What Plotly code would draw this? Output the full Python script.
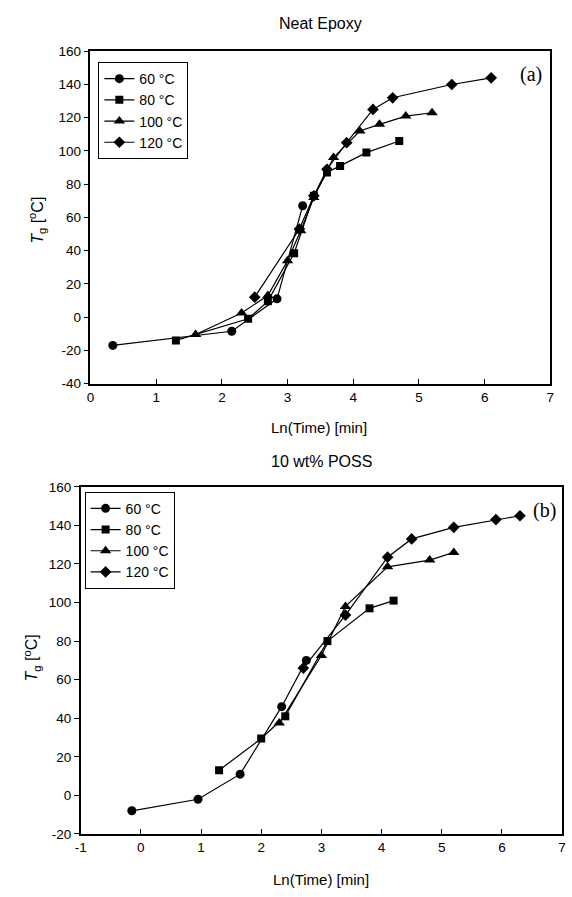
import plotly.graph_objects as go

# ---- Neat epoxy: Tg vs ln(time) at four cure temperatures ----
a_60_x = [0.34, 2.15, 2.84, 3.23]
a_60_y = [-17, -8.5, 11, 67]
a_80_x = [1.30, 2.40, 2.70, 3.10, 3.40, 3.60, 3.80, 4.20, 4.70]
a_80_y = [-14, -1, 9.5, 38.5, 73, 87, 91, 99, 106]
a_100_x = [1.60, 2.30, 2.70, 3.00, 3.20, 3.40, 3.70, 4.10, 4.40, 4.80, 5.20]
a_100_y = [-10.5, 2.5, 13, 34, 52, 72, 96, 112, 116, 121, 123]
a_120_x = [2.50, 3.18, 3.40, 3.60, 3.90, 4.30, 4.60, 5.50, 6.10]
a_120_y = [12, 53, 73, 89, 105, 125, 132, 140, 144]

# ---- 10 wt% POSS ----
b_60_x = [-0.15, 0.95, 1.65, 2.34, 2.75]
b_60_y = [-8, -2, 11, 46, 70]
b_80_x = [1.30, 2.00, 2.40, 3.10, 3.80, 4.20]
b_80_y = [13, 29.5, 41, 80, 97, 101]
b_100_x = [2.30, 3.00, 3.40, 4.10, 4.80, 5.20]
b_100_y = [37.5, 72.5, 98, 118.5, 122, 126]
b_120_x = [2.70, 3.40, 4.10, 4.50, 5.20, 5.90, 6.30]
b_120_y = [66, 93.5, 123.5, 133, 139, 143, 145]

series_names = ["60 °C", "80 °C", "100 °C", "120 °C"]
symbols = ["circle", "square", "triangle-up", "diamond"]
sizes = [9, 8, 10, 9]

a_xticks = [0, 1, 2, 3, 4, 5, 6, 7]
a_yticks = [-40, -20, 0, 20, 40, 60, 80, 100, 120, 140, 160]
b_xticks = [-1, 0, 1, 2, 3, 4, 5, 6, 7]
b_yticks = [-20, 0, 20, 40, 60, 80, 100, 120, 140, 160]

W, H = 572, 897
FONT = "Liberation Sans, Arial, sans-serif"
SERIF = "Liberation Serif, Times New Roman, serif"

fig = go.Figure()

panel_a = [(a_60_x, a_60_y), (a_80_x, a_80_y), (a_100_x, a_100_y), (a_120_x, a_120_y)]
panel_b = [(b_60_x, b_60_y), (b_80_x, b_80_y), (b_100_x, b_100_y), (b_120_x, b_120_y)]

for i, (xs, ys) in enumerate(panel_a):
    fig.add_trace(go.Scatter(
        x=xs, y=ys, mode="lines+markers", name=series_names[i],
        line=dict(color="black", width=1.2),
        marker=dict(symbol=symbols[i], size=sizes[i], color="black"),
        xaxis="x", yaxis="y", legend="legend"))

for i, (xs, ys) in enumerate(panel_b):
    fig.add_trace(go.Scatter(
        x=xs, y=ys, mode="lines+markers", name=series_names[i],
        line=dict(color="black", width=1.2),
        marker=dict(symbol=symbols[i], size=sizes[i], color="black"),
        xaxis="x2", yaxis="y2", legend="legend2"))


def fmt(v):
    # plain hyphen for negative labels
    return str(v).replace("\u2212", "-")


axis_common = dict(
    showline=True, linecolor="black", linewidth=1.5, mirror=True,
    showgrid=False, zeroline=False, ticklen=5, tickwidth=1.2,
    tickcolor="black", tickfont=dict(family=FONT, size=13.5, color="black"),
)


def xdom(l, r):
    return [l / W, r / W]


def ydom(top, bottom):
    return [(H - bottom) / H, (H - top) / H]


legend_common = dict(
    bgcolor="white", bordercolor="black", borderwidth=1,
    font=dict(family=FONT, size=14, color="black"),
    xanchor="left", yanchor="top", tracegroupgap=0, itemwidth=30,
)

fig.update_layout(
    width=W, height=H, margin=dict(l=0, r=0, t=0, b=0),
    paper_bgcolor="white", plot_bgcolor="white",
    font=dict(family=FONT, color="black"),
    xaxis=dict(domain=xdom(86, 554), anchor="y", range=[0, 7],
               tickvals=a_xticks, ticktext=[fmt(v) for v in a_xticks],
               ticks="inside", **axis_common),
    yaxis=dict(domain=ydom(45, 383), anchor="x", range=[-40, 160],
               tickvals=a_yticks, ticktext=[fmt(v) for v in a_yticks],
               ticks="outside", **axis_common),
    xaxis2=dict(domain=xdom(76, 566), anchor="y2", range=[-1, 7],
                tickvals=b_xticks, ticktext=[fmt(v) for v in b_xticks],
                ticks="inside", **axis_common),
    yaxis2=dict(domain=ydom(488, 841), anchor="x2", range=[-20, 160],
                tickvals=b_yticks, ticktext=[fmt(v) for v in b_yticks],
                ticks="outside", **axis_common),
    legend=dict(x=94 / W, y=(H - 56) / H, **legend_common),
    legend2=dict(x=80 / W, y=(H - 493) / H, **legend_common),
)

ytitle = "<i>T</i><sub>g</sub> [<sup>o</sup>C]"
xtitle = "Ln(Time) [min]"

annots = [
    dict(text="Neat Epoxy", x=320 / W, y=(H - 17) / H, size=16, family=FONT),
    dict(text="10 wt% POSS", x=321 / W, y=(H - 462) / H, size=16, family=FONT),
    dict(text=xtitle, x=319 / W, y=(H - 428) / H, size=15, family=FONT),
    dict(text=xtitle, x=321 / W, y=(H - 887) / H, size=15, family=FONT),
    dict(text="(a)", x=534 / W, y=(H - 69) / H, size=20, family=SERIF),
    dict(text="(b)", x=548 / W, y=(H - 512) / H, size=20, family=SERIF),
]
for a in annots:
    fig.add_annotation(text=a["text"], x=a["x"], y=a["y"], xref="paper", yref="paper",
                       xanchor="center", yanchor="middle", showarrow=False,
                       font=dict(family=a["family"], size=a["size"], color="black"))

for yc, xc in [(217, 32), (662, 26)]:
    fig.add_annotation(text=ytitle, x=xc / W, y=(H - yc) / H, xref="paper", yref="paper",
                       xanchor="center", yanchor="middle", showarrow=False, textangle=-90,
                       font=dict(family=FONT, size=16, color="black"))

fig.write_html("out.html")
